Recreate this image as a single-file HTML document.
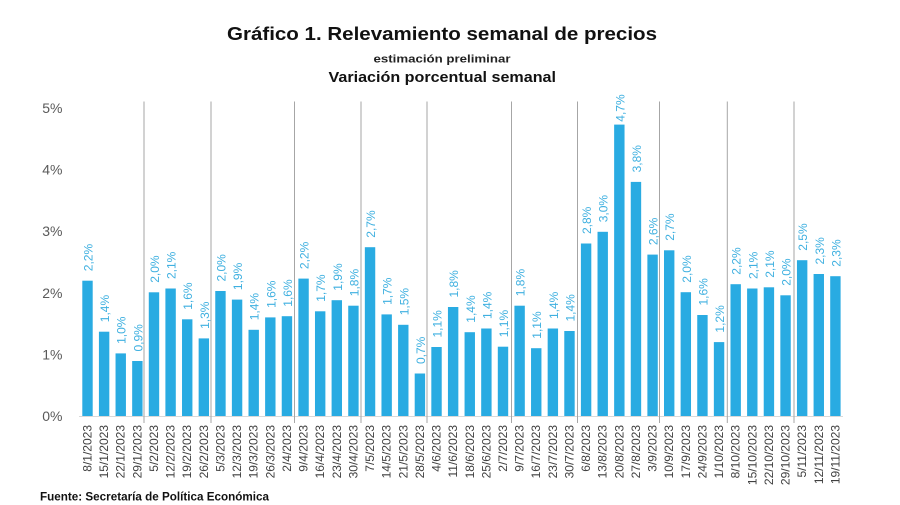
<!DOCTYPE html>
<html>
<head>
<meta charset="utf-8">
<style>
  html,body{margin:0;padding:0;background:#fff;}
  body{width:900px;height:505px;overflow:hidden;}
  svg{display:block;font-family:"Liberation Sans",Arial,sans-serif;}
  .bar{fill:#29abe2;}
  .lbl{font-size:12px;fill:#3fb0e0;}
  .tick{font-size:12px;fill:#404040;text-anchor:end;}
  .yl{font-size:14px;fill:#595959;text-anchor:end;}
  .sep{stroke:#a6a6a6;stroke-width:1;}
</style>
</head>
<body>
<svg width="900" height="505" viewBox="0 0 900 505" xmlns="http://www.w3.org/2000/svg">
  <rect width="900" height="505" fill="#fff"/>
  <!-- titles -->
  <text x="227" y="40" font-size="18.5" font-weight="bold" fill="#111" textLength="430" lengthAdjust="spacingAndGlyphs">Gráfico 1. Relevamiento semanal de precios</text>
  <text x="373.5" y="62.7" font-size="11" font-weight="bold" fill="#222" textLength="137" lengthAdjust="spacingAndGlyphs">estimación preliminar</text>
  <text x="328.5" y="82" font-size="14.5" font-weight="bold" fill="#111" textLength="227.5" lengthAdjust="spacingAndGlyphs">Variación porcentual semanal</text>

  <!-- y labels -->
  <text class="yl" x="62.5" y="113">5%</text>
  <text class="yl" x="62.5" y="174.6">4%</text>
  <text class="yl" x="62.5" y="236.2">3%</text>
  <text class="yl" x="62.5" y="297.8">2%</text>
  <text class="yl" x="62.5" y="359.4">1%</text>
  <text class="yl" x="62.5" y="421">0%</text>

  <!-- axis line -->
  <line x1="79" y1="416.5" x2="843" y2="416.5" stroke="#d9d9d9" stroke-width="1"/>

  <!-- month separators -->
  <line class="sep" x1="144" y1="101.5" x2="144" y2="423"/>
  <line class="sep" x1="211" y1="101.5" x2="211" y2="423"/>
  <line class="sep" x1="294.5" y1="101.5" x2="294.5" y2="423"/>
  <line class="sep" x1="361" y1="101.5" x2="361" y2="423"/>
  <line class="sep" x1="427" y1="101.5" x2="427" y2="423"/>
  <line class="sep" x1="511.5" y1="101.5" x2="511.5" y2="423"/>
  <line class="sep" x1="577.5" y1="101.5" x2="577.5" y2="423"/>
  <line class="sep" x1="659.5" y1="101.5" x2="659.5" y2="423"/>
  <line class="sep" x1="727.3" y1="101.5" x2="727.3" y2="423"/>
  <line class="sep" x1="794" y1="101.5" x2="794" y2="423"/>

  <!-- bars -->
  <rect class="bar" x="82.3" y="280.7" width="10.4" height="135.3"/>
  <rect class="bar" x="98.92" y="331.7" width="10.4" height="84.3"/>
  <rect class="bar" x="115.54" y="353.4" width="10.4" height="62.6"/>
  <rect class="bar" x="132.16" y="361.0" width="10.4" height="55.0"/>
  <rect class="bar" x="148.78" y="292.3" width="10.4" height="123.7"/>
  <rect class="bar" x="165.4" y="288.5" width="10.4" height="127.5"/>
  <rect class="bar" x="182.02" y="319.3" width="10.4" height="96.7"/>
  <rect class="bar" x="198.64" y="338.4" width="10.4" height="77.6"/>
  <rect class="bar" x="215.26" y="291.0" width="10.4" height="125.0"/>
  <rect class="bar" x="231.88" y="299.6" width="10.4" height="116.4"/>
  <rect class="bar" x="248.5" y="329.8" width="10.4" height="86.2"/>
  <rect class="bar" x="265.12" y="317.4" width="10.4" height="98.6"/>
  <rect class="bar" x="281.74" y="316.2" width="10.4" height="99.8"/>
  <rect class="bar" x="298.36" y="278.6" width="10.4" height="137.4"/>
  <rect class="bar" x="314.98" y="311.3" width="10.4" height="104.7"/>
  <rect class="bar" x="331.6" y="300.2" width="10.4" height="115.8"/>
  <rect class="bar" x="348.22" y="305.7" width="10.4" height="110.3"/>
  <rect class="bar" x="364.84" y="247.2" width="10.4" height="168.8"/>
  <rect class="bar" x="381.46" y="314.4" width="10.4" height="101.6"/>
  <rect class="bar" x="398.08" y="324.8" width="10.4" height="91.2"/>
  <rect class="bar" x="414.7" y="373.5" width="10.4" height="42.5"/>
  <rect class="bar" x="431.32" y="347.0" width="10.4" height="69.0"/>
  <rect class="bar" x="447.94" y="307.0" width="10.4" height="109.0"/>
  <rect class="bar" x="464.56" y="332.2" width="10.4" height="83.8"/>
  <rect class="bar" x="481.18" y="328.5" width="10.4" height="87.5"/>
  <rect class="bar" x="497.8" y="346.7" width="10.4" height="69.3"/>
  <rect class="bar" x="514.42" y="305.7" width="10.4" height="110.3"/>
  <rect class="bar" x="531.04" y="348.2" width="10.4" height="67.8"/>
  <rect class="bar" x="547.66" y="328.5" width="10.4" height="87.5"/>
  <rect class="bar" x="564.28" y="331.0" width="10.4" height="85.0"/>
  <rect class="bar" x="580.9" y="243.5" width="10.4" height="172.5"/>
  <rect class="bar" x="597.52" y="231.8" width="10.4" height="184.2"/>
  <rect class="bar" x="614.14" y="124.6" width="10.4" height="291.4"/>
  <rect class="bar" x="630.76" y="181.9" width="10.4" height="234.1"/>
  <rect class="bar" x="647.38" y="254.6" width="10.4" height="161.4"/>
  <rect class="bar" x="664.0" y="250.3" width="10.4" height="165.7"/>
  <rect class="bar" x="680.62" y="292.2" width="10.4" height="123.8"/>
  <rect class="bar" x="697.24" y="315.0" width="10.4" height="101.0"/>
  <rect class="bar" x="713.86" y="342.1" width="10.4" height="73.9"/>
  <rect class="bar" x="730.48" y="284.2" width="10.4" height="131.8"/>
  <rect class="bar" x="747.1" y="288.5" width="10.4" height="127.5"/>
  <rect class="bar" x="763.72" y="287.3" width="10.4" height="128.7"/>
  <rect class="bar" x="780.34" y="295.3" width="10.4" height="120.7"/>
  <rect class="bar" x="796.96" y="260.2" width="10.4" height="155.8"/>
  <rect class="bar" x="813.58" y="274.0" width="10.4" height="142.0"/>
  <rect class="bar" x="830.2" y="276.2" width="10.4" height="139.8"/>

  <!-- data labels -->
  <text class="lbl" transform="translate(92.5,271.2) rotate(-90)">2,2%</text>
  <text class="lbl" transform="translate(109.12,322.2) rotate(-90)">1,4%</text>
  <text class="lbl" transform="translate(125.74,343.9) rotate(-90)">1,0%</text>
  <text class="lbl" transform="translate(142.36,351.5) rotate(-90)">0,9%</text>
  <text class="lbl" transform="translate(158.98,282.8) rotate(-90)">2,0%</text>
  <text class="lbl" transform="translate(175.6,279.0) rotate(-90)">2,1%</text>
  <text class="lbl" transform="translate(192.22,309.8) rotate(-90)">1,6%</text>
  <text class="lbl" transform="translate(208.84,328.9) rotate(-90)">1,3%</text>
  <text class="lbl" transform="translate(225.46,281.5) rotate(-90)">2,0%</text>
  <text class="lbl" transform="translate(242.08,290.1) rotate(-90)">1,9%</text>
  <text class="lbl" transform="translate(258.7,320.3) rotate(-90)">1,4%</text>
  <text class="lbl" transform="translate(275.32,307.9) rotate(-90)">1,6%</text>
  <text class="lbl" transform="translate(291.94,306.7) rotate(-90)">1,6%</text>
  <text class="lbl" transform="translate(308.56,269.1) rotate(-90)">2,2%</text>
  <text class="lbl" transform="translate(325.18,301.8) rotate(-90)">1,7%</text>
  <text class="lbl" transform="translate(341.8,290.7) rotate(-90)">1,9%</text>
  <text class="lbl" transform="translate(358.42,296.2) rotate(-90)">1,8%</text>
  <text class="lbl" transform="translate(375.04,237.7) rotate(-90)">2,7%</text>
  <text class="lbl" transform="translate(391.66,304.9) rotate(-90)">1,7%</text>
  <text class="lbl" transform="translate(408.28,315.3) rotate(-90)">1,5%</text>
  <text class="lbl" transform="translate(424.9,364.0) rotate(-90)">0,7%</text>
  <text class="lbl" transform="translate(441.52,337.5) rotate(-90)">1,1%</text>
  <text class="lbl" transform="translate(458.14,297.5) rotate(-90)">1,8%</text>
  <text class="lbl" transform="translate(474.76,322.7) rotate(-90)">1,4%</text>
  <text class="lbl" transform="translate(491.38,319.0) rotate(-90)">1,4%</text>
  <text class="lbl" transform="translate(508.0,337.2) rotate(-90)">1,1%</text>
  <text class="lbl" transform="translate(524.62,296.2) rotate(-90)">1,8%</text>
  <text class="lbl" transform="translate(541.24,338.7) rotate(-90)">1,1%</text>
  <text class="lbl" transform="translate(557.86,319.0) rotate(-90)">1,4%</text>
  <text class="lbl" transform="translate(574.48,321.5) rotate(-90)">1,4%</text>
  <text class="lbl" transform="translate(591.1,234.0) rotate(-90)">2,8%</text>
  <text class="lbl" transform="translate(607.72,222.3) rotate(-90)">3,0%</text>
  <text class="lbl" transform="translate(624.34,121.7) rotate(-90)">4,7%</text>
  <text class="lbl" transform="translate(640.96,172.4) rotate(-90)">3,8%</text>
  <text class="lbl" transform="translate(657.58,245.1) rotate(-90)">2,6%</text>
  <text class="lbl" transform="translate(674.2,240.8) rotate(-90)">2,7%</text>
  <text class="lbl" transform="translate(690.82,282.7) rotate(-90)">2,0%</text>
  <text class="lbl" transform="translate(707.44,305.5) rotate(-90)">1,6%</text>
  <text class="lbl" transform="translate(724.06,332.6) rotate(-90)">1,2%</text>
  <text class="lbl" transform="translate(740.68,274.7) rotate(-90)">2,2%</text>
  <text class="lbl" transform="translate(757.3,279.0) rotate(-90)">2,1%</text>
  <text class="lbl" transform="translate(773.92,277.8) rotate(-90)">2,1%</text>
  <text class="lbl" transform="translate(790.54,285.8) rotate(-90)">2,0%</text>
  <text class="lbl" transform="translate(807.16,250.7) rotate(-90)">2,5%</text>
  <text class="lbl" transform="translate(823.78,264.5) rotate(-90)">2,3%</text>
  <text class="lbl" transform="translate(840.4,266.7) rotate(-90)">2,3%</text>

  <!-- x tick labels -->
  <text class="tick" transform="translate(91.5,425) rotate(-90)">8/1/2023</text>
  <text class="tick" transform="translate(108.12,425) rotate(-90)">15/1/2023</text>
  <text class="tick" transform="translate(124.74,425) rotate(-90)">22/1/2023</text>
  <text class="tick" transform="translate(141.36,425) rotate(-90)">29/1/2023</text>
  <text class="tick" transform="translate(157.98,425) rotate(-90)">5/2/2023</text>
  <text class="tick" transform="translate(174.6,425) rotate(-90)">12/2/2023</text>
  <text class="tick" transform="translate(191.22,425) rotate(-90)">19/2/2023</text>
  <text class="tick" transform="translate(207.84,425) rotate(-90)">26/2/2023</text>
  <text class="tick" transform="translate(224.46,425) rotate(-90)">5/3/2023</text>
  <text class="tick" transform="translate(241.08,425) rotate(-90)">12/3/2023</text>
  <text class="tick" transform="translate(257.7,425) rotate(-90)">19/3/2023</text>
  <text class="tick" transform="translate(274.32,425) rotate(-90)">26/3/2023</text>
  <text class="tick" transform="translate(290.94,425) rotate(-90)">2/4/2023</text>
  <text class="tick" transform="translate(307.56,425) rotate(-90)">9/4/2023</text>
  <text class="tick" transform="translate(324.18,425) rotate(-90)">16/4/2023</text>
  <text class="tick" transform="translate(340.8,425) rotate(-90)">23/4/2023</text>
  <text class="tick" transform="translate(357.42,425) rotate(-90)">30/4/2023</text>
  <text class="tick" transform="translate(374.04,425) rotate(-90)">7/5/2023</text>
  <text class="tick" transform="translate(390.66,425) rotate(-90)">14/5/2023</text>
  <text class="tick" transform="translate(407.28,425) rotate(-90)">21/5/2023</text>
  <text class="tick" transform="translate(423.9,425) rotate(-90)">28/5/2023</text>
  <text class="tick" transform="translate(440.52,425) rotate(-90)">4/6/2023</text>
  <text class="tick" transform="translate(457.14,425) rotate(-90)">11/6/2023</text>
  <text class="tick" transform="translate(473.76,425) rotate(-90)">18/6/2023</text>
  <text class="tick" transform="translate(490.38,425) rotate(-90)">25/6/2023</text>
  <text class="tick" transform="translate(507.0,425) rotate(-90)">2/7/2023</text>
  <text class="tick" transform="translate(523.62,425) rotate(-90)">9/7/2023</text>
  <text class="tick" transform="translate(540.24,425) rotate(-90)">16/7/2023</text>
  <text class="tick" transform="translate(556.86,425) rotate(-90)">23/7/2023</text>
  <text class="tick" transform="translate(573.48,425) rotate(-90)">30/7/2023</text>
  <text class="tick" transform="translate(590.1,425) rotate(-90)">6/8/2023</text>
  <text class="tick" transform="translate(606.72,425) rotate(-90)">13/8/2023</text>
  <text class="tick" transform="translate(623.34,425) rotate(-90)">20/8/2023</text>
  <text class="tick" transform="translate(639.96,425) rotate(-90)">27/8/2023</text>
  <text class="tick" transform="translate(656.58,425) rotate(-90)">3/9/2023</text>
  <text class="tick" transform="translate(673.2,425) rotate(-90)">10/9/2023</text>
  <text class="tick" transform="translate(689.82,425) rotate(-90)">17/9/2023</text>
  <text class="tick" transform="translate(706.44,425) rotate(-90)">24/9/2023</text>
  <text class="tick" transform="translate(723.06,425) rotate(-90)">1/10/2023</text>
  <text class="tick" transform="translate(739.68,425) rotate(-90)">8/10/2023</text>
  <text class="tick" transform="translate(756.3,425) rotate(-90)">15/10/2023</text>
  <text class="tick" transform="translate(772.92,425) rotate(-90)">22/10/2023</text>
  <text class="tick" transform="translate(789.54,425) rotate(-90)">29/10/2023</text>
  <text class="tick" transform="translate(806.16,425) rotate(-90)">5/11/2023</text>
  <text class="tick" transform="translate(822.78,425) rotate(-90)">12/11/2023</text>
  <text class="tick" transform="translate(839.4,425) rotate(-90)">19/11/2023</text>

  <!-- footer -->
  <text x="40" y="500.5" font-size="12" font-weight="bold" fill="#111" textLength="229" lengthAdjust="spacingAndGlyphs">Fuente: Secretaría de Política Económica</text>
</svg>
</body>
</html>
